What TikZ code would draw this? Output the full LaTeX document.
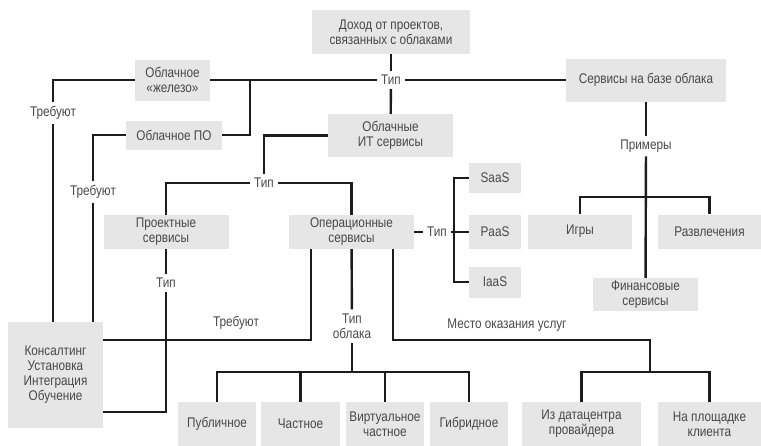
\documentclass[tikz,border=0pt]{standalone}
\usepackage{fontspec}
\setmainfont{Liberation Sans}[FakeStretch=0.84]
\definecolor{boxgray}{RGB}{230,230,230}
\definecolor{txtgray}{RGB}{72,72,72}
\definecolor{linegray}{RGB}{28,28,28}
\tikzset{
  box/.style={fill=boxgray, text=txtgray, align=center, inner sep=0pt,
    font=\fontsize{14}{15}\selectfont},
  lbl/.style={text=txtgray, align=center, inner sep=4pt,
    font=\fontsize{14}{15}\selectfont},
  wire/.style={draw=linegray, line width=2.4pt},
}
\begin{document}
\begin{tikzpicture}[x=1pt, y=-1pt]
    \useasboundingbox (0,0) rectangle (761,445);

    % top level
    \node[box, minimum width=158, minimum height=44] (dohod) at (391,32)
      {Доход от проектов,\\связанных с облаками};
    \node[lbl] (tip1) at (391,80) {Тип};
    \node[box, minimum width=75, minimum height=41] (hw) at (172.5,80)
      {Облачное\\«железо»};
    \node[box, minimum width=96, minimum height=29] (po) at (174,135)
      {Облачное ПО};
    \node[box, minimum width=125, minimum height=43] (it) at (390.5,135.5)
      {Облачные\\ИТ сервисы};
    \node[box, minimum width=160, minimum height=43] (cloudsvc) at (646,80)
      {Сервисы на базе облака};
    \coordinate (j1) at (250,80);

    \node[lbl] (req1) at (53,113) {Требуют};
    \node[lbl] (req2) at (93,192) {Требуют};

    % IT services
    \node[lbl] (tip2) at (264,183) {Тип};
    \node[box, minimum width=125, minimum height=34] (proj) at (166,232)
      {Проектные\\сервисы};
    \node[box, minimum width=125, minimum height=34] (oper) at (351.5,232)
      {Операционные\\сервисы};
    \node[lbl] (tip3) at (437,232) {Тип};
    \node[box, minimum width=52, minimum height=30] (saas) at (495,178) {SaaS};
    \node[box, minimum width=52, minimum height=34] (paas) at (495,232) {PaaS};
    \node[box, minimum width=52, minimum height=31] (iaas) at (495,282) {IaaS};

    % examples
    \node[lbl] (primery) at (646,146) {Примеры};
    \node[box, minimum width=104, minimum height=34] (games) at (580,231.5)
      {Игры};
    \node[box, minimum width=103, minimum height=34] (ent) at (709.5,231.5)
      {Развлечения};
    \node[box, minimum width=105, minimum height=33] (fin) at (645.5,294.5)
      {Финансовые\\сервисы};
    \coordinate (ex) at (646,197);

    % bottom
    \node[box, minimum width=95, minimum height=106] (cons) at (55.5,375)
      {Консалтинг\\Установка\\Интеграция\\Обучение};
    \node[lbl] (tip4) at (166,283) {Тип};
    \node[lbl] (req3) at (236,323) {Требуют};
    \node[lbl] (tipcloud) at (352,326) {Тип\\облака};
    \node[lbl] (place) at (507,325) {Место оказания услуг};
    \coordinate (cl) at (352,372);
    \coordinate (pl) at (650,340);
    \coordinate (pl2) at (650,372);

    \node[box, minimum width=78, minimum height=44] (pub) at (217,424)
      {Публичное};
    \node[box, minimum width=79, minimum height=44] (priv) at (300.5,424)
      {Частное};
    \node[box, minimum width=78, minimum height=44] (virt) at (385,424)
      {Виртуальное\\частное};
    \node[box, minimum width=78, minimum height=44] (hyb) at (469,424)
      {Гибридное};
    \node[box, minimum width=119, minimum height=44] (dc) at (581.5,424)
      {Из датацентра\\провайдера};
    \node[box, minimum width=103, minimum height=44] (site) at (709.5,424)
      {На площадке\\клиента};

    % connectors
    \draw[wire] (dohod) -- (tip1);
    \draw[wire] (tip1) -- (it);
    \draw[wire] (tip1) -- (cloudsvc);
    \draw[wire] (tip1) -- (hw);
    \draw[wire] (po) -| (j1);
    \draw[wire] (hw) -| (req1);
    \draw[wire] (req1) -- (req1 |- cons.north);
    \draw[wire] (po) -| (req2);
    \draw[wire] (req2) -- (req2 |- cons.north);

    \draw[wire] (it) -| (tip2);
    \draw[wire] (tip2) -| (proj);
    \draw[wire] (tip2) -| (oper);
    \draw[wire] (oper) -- (tip3);
    \draw[wire] (tip3) -- (paas);
    \draw[wire] (saas.west) -- ++(-15,0) |- (iaas.west);

    \draw[wire] (cloudsvc) -- (primery);
    \draw[wire] (primery) -- (fin);
    \draw[wire] (games) |- (ex) -| (ent);

    \draw[wire] (proj) -- (tip4);
    \draw[wire] (tip4) |- ([yshift=-37pt]cons.east);
    \draw[wire] ([xshift=-40.5pt]oper.south) |- ([yshift=35pt]cons.east);
    \draw[wire] (oper) -- (tipcloud);
    \draw[wire] (tipcloud) -- (cl);
    \draw[wire] (pub) |- (cl) -| (hyb);
    \draw[wire] (priv) -- (priv |- cl);
    \draw[wire] (virt) -- (virt |- cl);
    \draw[wire] ([xshift=41.5pt]oper.south) |- (pl) -- (pl2);
    \draw[wire] (dc) |- (pl2) -| (site);
\end{tikzpicture}
\end{document}
